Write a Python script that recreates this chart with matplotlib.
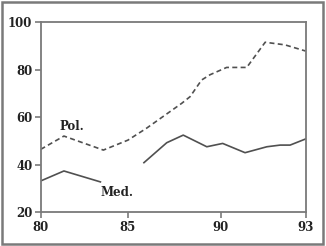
import numpy as np
import matplotlib
matplotlib.use("Agg")
import matplotlib.pyplot as plt
from matplotlib.patches import Rectangle

# data
pol_years = [80.0, 81.33, 83.59, 85.0, 86.0, 87.9, 88.35, 88.97, 89.42, 90.21, 90.92, 91.57, 92.27, 93.0]
pol_vals = [46.5, 52.1, 46.2, 50.4, 55.4, 65.9, 68.7, 75.7, 77.9, 81.0, 81.0, 91.6, 90.5, 87.9]

med_years_a = [80.0, 81.33, 83.42]
med_vals_a = [33.2, 37.4, 32.8]

med_years_b = [85.86, 87.09, 87.98, 89.25, 90.07, 90.86, 91.63, 92.10, 92.45, 93.0]
med_vals_b = [40.9, 49.3, 52.5, 47.6, 49.0, 45.1, 47.6, 48.3, 48.3, 50.9]

x_ticks = [80, 85, 90, 93]
y_ticks = [20, 40, 60, 80, 100]

# the original time axis is not evenly spaced between its ticks
tick_pos = [0.0, 87.3, 180.0, 265.0]


def fwd(x):
    x = np.asarray(x, dtype=float)
    return np.interp(x, x_ticks, tick_pos)


def inv(p):
    p = np.asarray(p, dtype=float)
    return np.interp(p, tick_pos, x_ticks)


gray = "#7a7a7a"
line_c = "#505050"

fig = plt.figure(figsize=(3.26, 2.46), dpi=100)
ax = fig.add_axes([0.1248, 0.137, 0.8129, 0.7723])

ax.plot(pol_years, pol_vals, color=line_c, lw=1.2, ls=(0, (3, 2)))
ax.plot(med_years_a, med_vals_a, color=line_c, lw=1.2)
ax.plot(med_years_b, med_vals_b, color=line_c, lw=1.2)

ax.set_xscale("function", functions=(fwd, inv))
ax.set_xlim(80, 93)
ax.set_ylim(20, 100)
ax.set_xticks(x_ticks)
ax.set_yticks(y_ticks)

for s in ax.spines.values():
    s.set_color(gray)
    s.set_linewidth(1.3)
ax.tick_params(axis="both", colors=gray, length=4, width=1.2, labelsize=8.5, pad=2)
for lab in ax.get_xticklabels() + ax.get_yticklabels():
    lab.set_color("#222222")
    lab.set_fontfamily("DejaVu Serif")
    lab.set_fontweight("bold")

ax.text(81.8, 56.0, "Pol.", ha="center", va="center", fontsize=8.5,
        family="DejaVu Serif", fontweight="bold", color="#222222")
ax.text(84.35, 28.3, "Med.", ha="center", va="center", fontsize=8.5,
        family="DejaVu Serif", fontweight="bold", color="#222222")

fig.patches.append(Rectangle((0.006, 0.008), 0.984, 0.984, transform=fig.transFigure,
                             fill=False, edgecolor=gray, linewidth=1.8))

fig.savefig("out.png", dpi=100)
